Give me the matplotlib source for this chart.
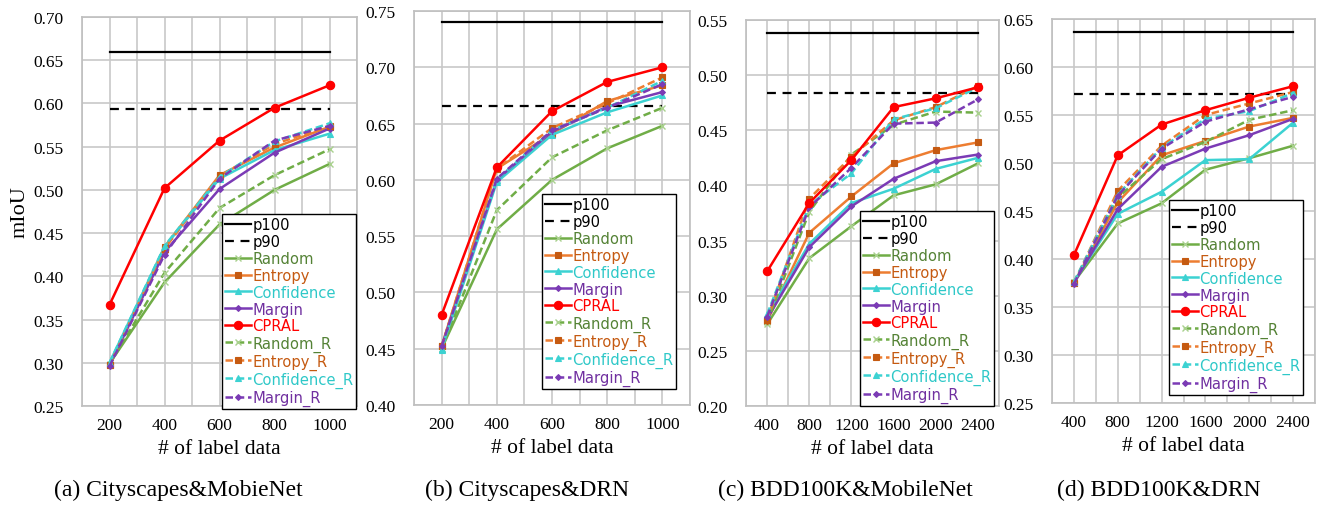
import numpy as np
import matplotlib
matplotlib.use("Agg")
import matplotlib.pyplot as plt
from matplotlib.ticker import MultipleLocator

# ---- data ----
x_city = [200, 400, 600, 800, 1000]
x_bdd = [400, 800, 1200, 1600, 2000, 2400]

# (a) Cityscapes & MobileNet
a_p100 = 0.660
a_p90 = 0.593
a_random = [0.299, 0.393, 0.460, 0.500, 0.530]
a_entropy = [0.297, 0.434, 0.517, 0.549, 0.573]
a_confidence = [0.300, 0.434, 0.513, 0.546, 0.565]
a_margin = [0.297, 0.428, 0.501, 0.543, 0.571]
a_cpral = [0.367, 0.502, 0.557, 0.595, 0.621]
a_random_r = [0.298, 0.404, 0.479, 0.517, 0.547]
a_entropy_r = [0.297, 0.432, 0.516, 0.553, 0.574]
a_confidence_r = [0.300, 0.435, 0.515, 0.556, 0.577]
a_margin_r = [0.296, 0.425, 0.513, 0.557, 0.574]

# (b) Cityscapes & DRN
b_p100 = 0.740
b_p90 = 0.666
b_random = [0.450, 0.556, 0.600, 0.628, 0.648]
b_entropy = [0.452, 0.610, 0.641, 0.670, 0.684]
b_confidence = [0.449, 0.598, 0.640, 0.660, 0.675]
b_margin = [0.452, 0.600, 0.643, 0.665, 0.678]
b_cpral = [0.480, 0.611, 0.661, 0.687, 0.700]
b_random_r = [0.450, 0.573, 0.620, 0.644, 0.664]
b_entropy_r = [0.452, 0.610, 0.646, 0.668, 0.691]
b_confidence_r = [0.450, 0.600, 0.644, 0.664, 0.688]
b_margin_r = [0.452, 0.601, 0.644, 0.664, 0.685]

# (c) BDD100K & MobileNet
c_p100 = 0.538
c_p90 = 0.484
c_random = [0.274, 0.334, 0.363, 0.391, 0.401, 0.420]
c_entropy = [0.277, 0.357, 0.390, 0.420, 0.432, 0.439]
c_confidence = [0.282, 0.347, 0.384, 0.397, 0.415, 0.425]
c_margin = [0.279, 0.344, 0.381, 0.406, 0.422, 0.428]
c_cpral = [0.322, 0.384, 0.423, 0.471, 0.479, 0.489]
c_random_r = [0.276, 0.376, 0.428, 0.455, 0.467, 0.466]
c_entropy_r = [0.278, 0.388, 0.426, 0.459, 0.471, 0.490]
c_confidence_r = [0.283, 0.382, 0.411, 0.460, 0.470, 0.489]
c_margin_r = [0.281, 0.380, 0.416, 0.456, 0.457, 0.478]

# (d) BDD100K & DRN
d_p100 = 0.636
d_p90 = 0.572
d_random = [0.376, 0.437, 0.458, 0.493, 0.505, 0.518]
d_entropy = [0.375, 0.459, 0.508, 0.523, 0.538, 0.547]
d_confidence = [0.376, 0.447, 0.470, 0.503, 0.504, 0.542]
d_margin = [0.375, 0.452, 0.496, 0.515, 0.529, 0.546]
d_cpral = [0.404, 0.508, 0.540, 0.555, 0.568, 0.580]
d_random_r = [0.376, 0.464, 0.504, 0.522, 0.545, 0.555]
d_entropy_r = [0.375, 0.471, 0.518, 0.550, 0.562, 0.574]
d_confidence_r = [0.376, 0.467, 0.516, 0.546, 0.554, 0.573]
d_margin_r = [0.374, 0.466, 0.515, 0.543, 0.556, 0.569]

captions = ["(a) Cityscapes&MobieNet", "(b) Cityscapes&DRN",
            "(c) BDD100K&MobileNet", "(d) BDD100K&DRN"]
caption_x = [178, 527, 845, 1159]  # px centres

# ---- styles ----
W, H = 1324, 506
GREEN, ORANGE, CYAN, PURPLE, RED = "#70AD47", "#ED7D31", "#3CD2D2", "#7B3BB5", "#FF0000"
# name, line colour, marker, marker colour, marker size, legend text colour
styles = [
    ("Random", GREEN, "x", "#A9D18E", 5, "#548235"),
    ("Entropy", ORANGE, "s", "#C55A11", 4.5, "#C55A11"),
    ("Confidence", CYAN, "^", CYAN, 4, "#2EC8C8"),
    ("Margin", PURPLE, "D", PURPLE, 3, "#7030A0"),
    ("CPRAL", RED, "o", RED, 6, "#FF0000"),
]
SERIF = "Liberation Serif"

fig = plt.figure(figsize=(W / 100, H / 100), dpi=100)


def px_axes(l, t, r, b):
    return fig.add_axes([l / W, 1 - b / H, (r - l) / W, (b - t) / H])


panels = [
    # box (px), x, xlim, grid step, y range, series, p100, p90, legend top-left (px)
    ((82, 18, 357, 407), x_city, (100, 1100), 100, (0.25, 0.70),
     [a_random, a_entropy, a_confidence, a_margin, a_cpral,
      a_random_r, a_entropy_r, a_confidence_r, a_margin_r], a_p100, a_p90, (222, 215)),
    ((414, 12, 690, 406), x_city, (100, 1100), 100, (0.40, 0.75),
     [b_random, b_entropy, b_confidence, b_margin, b_cpral,
      b_random_r, b_entropy_r, b_confidence_r, b_margin_r], b_p100, b_p90, (542, 195)),
    ((746, 21, 999, 407), x_bdd, (200, 2600), 200, (0.20, 0.55),
     [c_random, c_entropy, c_confidence, c_margin, c_cpral,
      c_random_r, c_entropy_r, c_confidence_r, c_margin_r], c_p100, c_p90, (860, 212)),
    ((1052, 20, 1315, 404), x_bdd, (200, 2600), 200, (0.25, 0.65),
     [d_random, d_entropy, d_confidence, d_margin, d_cpral,
      d_random_r, d_entropy_r, d_confidence_r, d_margin_r], d_p100, d_p90, (1169, 201)),
]

for i, (box, xs, xlim, grid_step, ylim, series, p100, p90, leg_pos) in enumerate(panels):
    ax = px_axes(*box)
    ax.set_xlim(*xlim)
    ax.set_ylim(*ylim)
    ax.set_xticks(xs)
    ax.xaxis.set_minor_locator(MultipleLocator(grid_step))
    ax.yaxis.set_major_locator(MultipleLocator(0.05))
    ax.grid(True, which="both", axis="x", color="#C8C8C8", lw=1.2)
    ax.grid(True, which="major", axis="y", color="#C8C8C8", lw=1.2)
    ax.set_axisbelow(True)
    for s in ax.spines.values():
        s.set_color("#BFBFBF")
        s.set_linewidth(1.2)
    ax.tick_params(which="both", length=0, labelsize=12.5)
    ax.tick_params(axis="y", pad=13)
    ax.tick_params(axis="x", pad=8)
    for lab in ax.get_xticklabels() + ax.get_yticklabels():
        lab.set_fontfamily(SERIF)
    ax.yaxis.set_major_formatter(matplotlib.ticker.FormatStrFormatter("%.2f"))

    ax.plot([xs[0], xs[-1]], [p100, p100], color="black", lw=1.6, label="p100")
    ax.plot([xs[0], xs[-1]], [p90, p90], color="black", lw=1.6, ls=(0, (4, 3)), label="p90")
    text_cols = ["black", "black"]
    for j, ys in enumerate(series):
        name, col, mk, mcol, ms, tcol = styles[j % 5]
        dashed = j >= 5
        label = name + "_R" if dashed else name
        ax.plot(xs, ys, color=col, lw=1.8, marker=mk, ms=ms, mfc=mcol, mec=mcol,
                mew=1.0 if mk == "x" else 0.8,
                ls=(0, (3, 1.5)) if dashed else "-", label=label,
                zorder=4 if name == "CPRAL" else 3)
        text_cols.append(tcol)

    ax.set_xlabel("# of label data", fontfamily=SERIF, fontsize=15.5, labelpad=4)
    if i == 0:
        ax.set_ylabel("mIoU", fontfamily=SERIF, fontsize=16, labelpad=3)

    leg = ax.legend(loc="upper left", bbox_to_anchor=(leg_pos[0] / W, 1 - leg_pos[1] / H),
                    bbox_transform=fig.transFigure, prop={"family": "DejaVu Sans", "size": 10.6},
                    frameon=True, fancybox=False, framealpha=1, edgecolor="black",
                    borderpad=0.2, labelspacing=0.13, handlelength=1.75, handletextpad=0.1,
                    borderaxespad=0)
    leg.get_frame().set_linewidth(1.0)
    for txt, tc in zip(leg.get_texts(), text_cols):
        txt.set_color(tc)
    leg.set_zorder(10)

    fig.text(caption_x[i] / W, 1 - 490 / H, captions[i], ha="center", va="center",
             fontfamily=SERIF, fontsize=17)

fig.savefig("out.png", dpi=100)
